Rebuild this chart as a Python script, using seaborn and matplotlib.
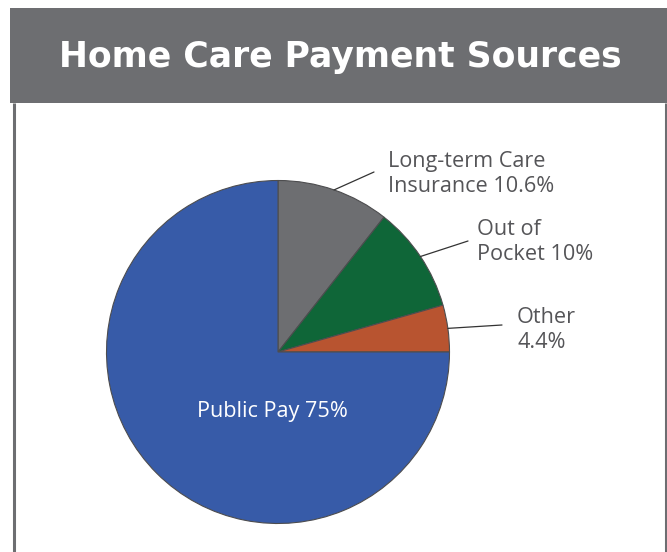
import matplotlib
matplotlib.use("Agg")
import matplotlib.pyplot as plt
import seaborn as sns
import numpy as np
from matplotlib.patches import Rectangle

title = "Home Care Payment Sources"
categories = ["Long-term Care\nInsurance 10.6%", "Out of\nPocket 10%", "Other\n4.4%", "Public Pay 75%"]
values = [10.6, 10.0, 4.4, 75.0]
colors = ["#6d6e71", "#0f6638", "#b85430", "#375ba8"]

sns.set_theme(style="white")
plt.rcParams['font.family'] = ['Open Sans', 'DejaVu Sans']

W, H = 667, 552
fig = plt.figure(figsize=(W / 100, H / 100), dpi=100)
fig.patch.set_facecolor("white")
ax = fig.add_axes([0, 0, 1, 1])

cx, cy, r = 278, H - 352, 171.5
wedges, _ = ax.pie(values, colors=colors, startangle=90, counterclock=False,
                   center=(cx, cy), radius=r, frame=True,
                   wedgeprops=dict(edgecolor="#4d4d4f", linewidth=0.8))
ax.set_xlim(0, W)
ax.set_ylim(0, H)
ax.set_aspect("auto")
ax.axis("off")

renderer = fig.canvas.get_renderer()


def fit(t, target_w):
    w = t.get_window_extent(renderer).width
    t.set_fontsize(t.get_fontsize() * target_w / w)


# header band and frame
ax.add_patch(Rectangle((10, H - 103), W - 10, 95, facecolor="#6d6e71", edgecolor="none", zorder=0))
ax.plot([13.5, 13.5], [0, H - 103], color="#6d6e71", lw=2.2, solid_capstyle="butt")
ax.plot([665.5, 665.5], [0, H - 103], color="#6d6e71", lw=2.2, solid_capstyle="butt")
tt = ax.text(340, H - 67.5, title, color="white", fontsize=26, fontweight="bold",
             family=["DejaVu Sans"], ha="center", va="baseline")
fit(tt, 564)

# outside labels with leader lines
label_pos = [(388, H - 174), (477, H - 242), (517, H - 330)]
line_end = [(374, H - 172), (468, H - 241), (502, H - 325)]
probe = ax.text(0, 0, "Long-term Care", fontsize=13.5)
fit(probe, 157)
lab_fs = probe.get_fontsize()
probe.remove()
for w, lab, (tx, ty), (ex, ey) in zip(wedges[:3], categories[:3], label_pos, line_end):
    ang = np.deg2rad((w.theta1 + w.theta2) / 2)
    sx, sy = cx + r * np.cos(ang), cy + r * np.sin(ang)
    ax.plot([sx, ex], [sy, ey], color="#333333", lw=0.9)
    ax.text(tx, ty, lab, color="#555558", fontsize=lab_fs, ha="left", va="center",
            linespacing=1.2)

ax.text(272, H - 411, categories[3], color="white", fontsize=lab_fs, ha="center", va="center")

fig.savefig("out.png", dpi=100, facecolor="white")
